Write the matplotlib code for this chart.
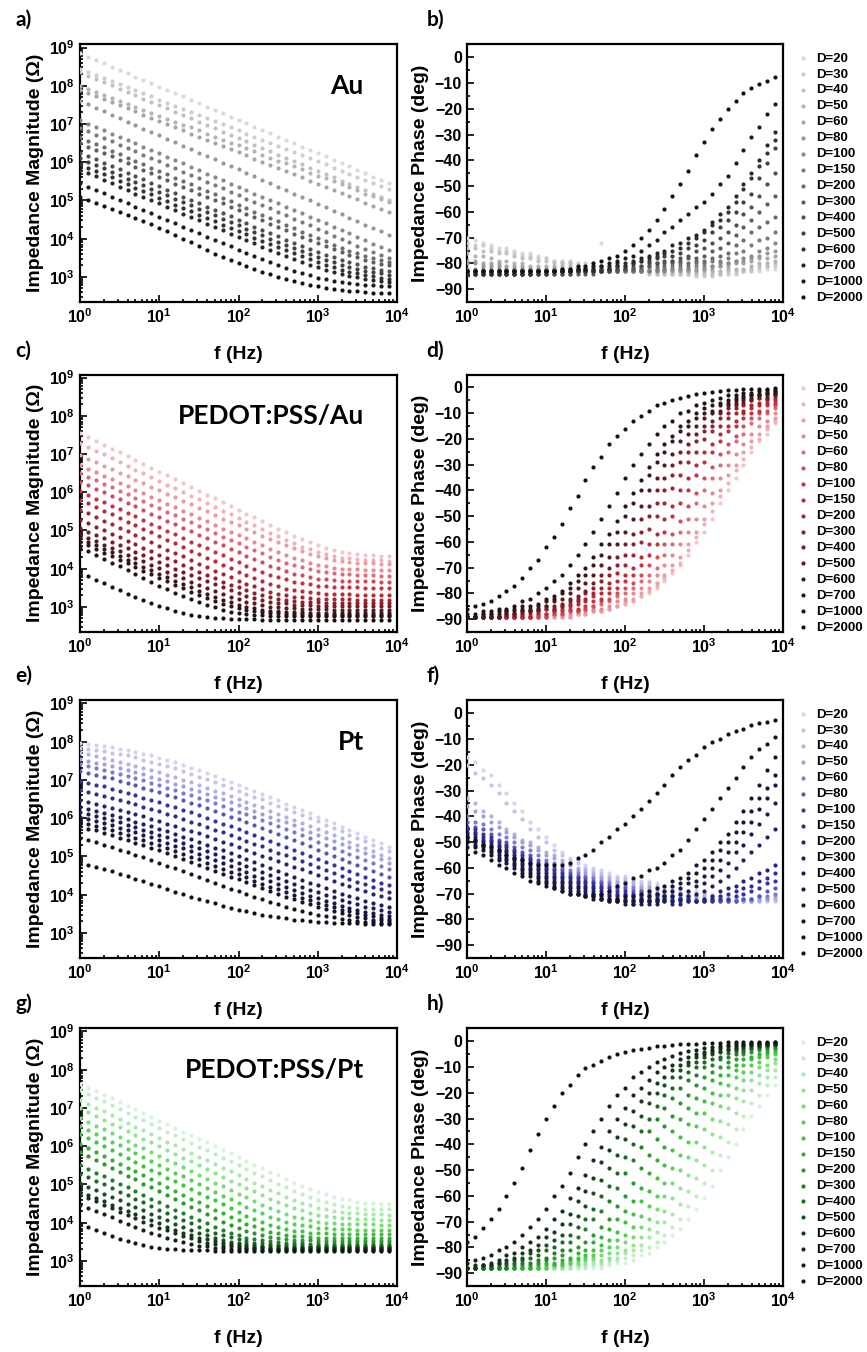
import matplotlib.pyplot as plt
import numpy as np
from matplotlib.colors import LinearSegmentedColormap
from matplotlib.ticker import MultipleLocator, NullFormatter, LogLocator

plt.rcParams['font.family'] = ['Liberation Sans', 'DejaVu Sans']
plt.rcParams['font.weight'] = 'bold'
plt.rcParams['axes.labelweight'] = 'bold'
plt.rcParams['mathtext.fontset'] = 'custom'
plt.rcParams['mathtext.rm'] = 'Liberation Sans:bold'
plt.rcParams['mathtext.it'] = 'Liberation Sans:bold'
plt.rcParams['mathtext.bf'] = 'Liberation Sans:bold'

# frequency sweep (Hz), 10 points per decade
freq = [1.0, 1.26, 1.58, 2.0, 2.51, 3.16, 3.98, 5.01, 6.31, 7.94,
        10, 12.6, 15.8, 20.0, 25.1, 31.6, 39.8, 50.1, 63.1, 79.4,
        100, 126, 158, 200, 251, 316, 398, 501, 631, 794,
        1000, 1259, 1585, 1995, 2512, 3162, 3981, 5012, 6310, 7943]
diameters = [20, 30, 40, 50, 60, 80, 100, 150, 200, 300, 400, 500, 600, 700, 1000, 2000]

# ---------------- Au : log10 |Z| (Ohm) ----------------
au_logz = [
    [8.85, 8.76, 8.68, 8.59, 8.50, 8.41, 8.33, 8.24, 8.15, 8.07, 7.98, 7.89, 7.80, 7.72, 7.63, 7.54, 7.45, 7.37, 7.28, 7.19,
     7.11, 7.02, 6.93, 6.84, 6.76, 6.67, 6.58, 6.50, 6.41, 6.32, 6.23, 6.15, 6.06, 5.97, 5.89, 5.80, 5.71, 5.62, 5.54, 5.45],
    [8.45, 8.37, 8.29, 8.21, 8.13, 8.05, 7.97, 7.88, 7.80, 7.72, 7.64, 7.56, 7.48, 7.40, 7.32, 7.24, 7.16, 7.08, 7.00, 6.92,
     6.83, 6.75, 6.67, 6.59, 6.51, 6.43, 6.35, 6.27, 6.19, 6.11, 6.03, 5.95, 5.86, 5.78, 5.70, 5.62, 5.54, 5.46, 5.38, 5.30],
    [8.35, 8.26, 8.18, 8.09, 8.01, 7.92, 7.83, 7.75, 7.66, 7.58, 7.49, 7.41, 7.32, 7.23, 7.15, 7.06, 6.98, 6.89, 6.80, 6.72,
     6.63, 6.55, 6.46, 6.37, 6.29, 6.20, 6.12, 6.03, 5.94, 5.86, 5.77, 5.69, 5.60, 5.51, 5.43, 5.34, 5.26, 5.17, 5.09, 5.00],
    [8.00, 7.92, 7.84, 7.77, 7.69, 7.61, 7.53, 7.45, 7.37, 7.30, 7.22, 7.14, 7.06, 6.98, 6.91, 6.83, 6.75, 6.67, 6.59, 6.51,
     6.44, 6.36, 6.28, 6.20, 6.12, 6.04, 5.97, 5.89, 5.81, 5.73, 5.65, 5.58, 5.50, 5.42, 5.34, 5.26, 5.18, 5.11, 5.03, 4.95],
    [7.90, 7.82, 7.74, 7.65, 7.57, 7.49, 7.41, 7.33, 7.24, 7.16, 7.08, 7.00, 6.91, 6.83, 6.75, 6.67, 6.59, 6.50, 6.42, 6.34,
     6.26, 6.18, 6.09, 6.01, 5.93, 5.85, 5.77, 5.68, 5.60, 5.52, 5.44, 5.35, 5.27, 5.19, 5.11, 5.03, 4.94, 4.86, 4.78, 4.70],
    [7.60, 7.51, 7.42, 7.33, 7.24, 7.15, 7.06, 6.97, 6.88, 6.79, 6.70, 6.61, 6.52, 6.43, 6.34, 6.25, 6.16, 6.08, 5.99, 5.90,
     5.81, 5.72, 5.63, 5.54, 5.45, 5.36, 5.27, 5.18, 5.09, 5.00, 4.91, 4.82, 4.73, 4.64, 4.55, 4.46, 4.37, 4.28, 4.19, 4.10],
    [7.10, 7.01, 6.93, 6.84, 6.75, 6.66, 6.58, 6.49, 6.40, 6.32, 6.23, 6.14, 6.05, 5.97, 5.88, 5.79, 5.70, 5.62, 5.53, 5.44,
     5.36, 5.27, 5.18, 5.09, 5.01, 4.92, 4.83, 4.75, 4.66, 4.57, 4.48, 4.40, 4.31, 4.22, 4.14, 4.05, 3.96, 3.87, 3.79, 3.70],
    [6.90, 6.81, 6.72, 6.64, 6.55, 6.46, 6.37, 6.28, 6.20, 6.11, 6.02, 5.93, 5.84, 5.75, 5.67, 5.58, 5.49, 5.41, 5.32, 5.23,
     5.14, 5.05, 4.96, 4.88, 4.79, 4.70, 4.61, 4.52, 4.43, 4.35, 4.26, 4.17, 4.08, 3.99, 3.90, 3.82, 3.73, 3.65, 3.57, 3.50],
    [6.65, 6.56, 6.48, 6.39, 6.30, 6.21, 6.12, 6.03, 5.95, 5.86, 5.77, 5.68, 5.59, 5.50, 5.42, 5.33, 5.24, 5.16, 5.07, 4.98,
     4.89, 4.80, 4.71, 4.63, 4.54, 4.45, 4.36, 4.27, 4.18, 4.10, 4.01, 3.93, 3.84, 3.76, 3.69, 3.62, 3.55, 3.50, 3.45, 3.40],
    [6.50, 6.41, 6.33, 6.24, 6.15, 6.06, 5.97, 5.88, 5.80, 5.71, 5.62, 5.53, 5.44, 5.35, 5.27, 5.18, 5.09, 5.01, 4.92, 4.83,
     4.74, 4.65, 4.56, 4.48, 4.39, 4.30, 4.22, 4.13, 4.05, 3.96, 3.88, 3.80, 3.72, 3.64, 3.58, 3.51, 3.45, 3.40, 3.35, 3.30],
    [6.25, 6.16, 6.08, 5.99, 5.90, 5.81, 5.72, 5.63, 5.55, 5.46, 5.37, 5.28, 5.19, 5.10, 5.02, 4.93, 4.84, 4.76, 4.67, 4.58,
     4.49, 4.40, 4.31, 4.23, 4.14, 4.06, 3.97, 3.89, 3.81, 3.73, 3.65, 3.58, 3.51, 3.44, 3.38, 3.33, 3.27, 3.23, 3.19, 3.15],
    [6.10, 6.01, 5.93, 5.84, 5.75, 5.66, 5.57, 5.48, 5.40, 5.31, 5.22, 5.13, 5.04, 4.95, 4.87, 4.78, 4.69, 4.61, 4.52, 4.43,
     4.35, 4.26, 4.17, 4.09, 4.00, 3.92, 3.83, 3.75, 3.67, 3.60, 3.52, 3.45, 3.39, 3.32, 3.27, 3.21, 3.16, 3.12, 3.09, 3.05],
    [5.95, 5.86, 5.78, 5.69, 5.60, 5.51, 5.42, 5.33, 5.25, 5.16, 5.07, 4.98, 4.89, 4.80, 4.72, 4.63, 4.54, 4.46, 4.37, 4.28,
     4.20, 4.11, 4.03, 3.94, 3.86, 3.78, 3.70, 3.62, 3.54, 3.47, 3.39, 3.32, 3.26, 3.19, 3.14, 3.10, 3.05, 3.02, 2.98, 2.95],
    [5.80, 5.71, 5.63, 5.54, 5.45, 5.36, 5.27, 5.18, 5.10, 5.01, 4.92, 4.83, 4.74, 4.65, 4.57, 4.48, 4.39, 4.31, 4.22, 4.13,
     4.05, 3.96, 3.88, 3.79, 3.71, 3.63, 3.55, 3.47, 3.40, 3.32, 3.25, 3.19, 3.13, 3.07, 3.03, 2.99, 2.95, 2.92, 2.90, 2.87],
    [5.45, 5.36, 5.28, 5.19, 5.10, 5.01, 4.92, 4.83, 4.75, 4.66, 4.57, 4.49, 4.40, 4.31, 4.23, 4.14, 4.05, 3.97, 3.88, 3.80,
     3.71, 3.63, 3.55, 3.47, 3.39, 3.31, 3.24, 3.16, 3.10, 3.04, 2.98, 2.94, 2.90, 2.86, 2.84, 2.81, 2.79, 2.78, 2.76, 2.75],
    [5.08, 5.00, 4.93, 4.85, 4.77, 4.69, 4.61, 4.53, 4.46, 4.38, 4.29, 4.19, 4.10, 4.00, 3.90, 3.80, 3.71, 3.61, 3.52, 3.44,
     3.36, 3.28, 3.21, 3.14, 3.07, 3.01, 2.95, 2.89, 2.84, 2.80, 2.75, 2.72, 2.68, 2.65, 2.63, 2.62, 2.60, 2.59, 2.58, 2.57],
]

# ---------------- Au : phase (deg) ----------------
au_phase = [
    [-70, -71, -72, -73, -74, -74, -75, -76, -76, -77, -78, -79, -80, -80, -80, -81, -81, -72, -81, -82,
     -82, -82, -82, -83, -83, -83, -84, -84, -84, -84, -84, -84, -84, -84, -84, -83, -83, -83, -82, -82],
    [-72, -73, -73, -74, -75, -75, -76, -77, -77, -78, -78, -79, -79, -79, -80, -80, -80, -81, -81, -81,
     -82, -82, -83, -83, -84, -84, -84, -84, -84, -85, -85, -85, -84, -84, -84, -83, -83, -82, -81, -81],
    [-74, -74, -75, -75, -76, -76, -77, -78, -78, -79, -79, -80, -80, -80, -81, -81, -81, -82, -82, -82,
     -83, -83, -83, -84, -84, -84, -84, -84, -84, -84, -84, -84, -84, -83, -83, -83, -82, -81, -81, -80],
    [-76, -77, -77, -78, -79, -79, -80, -80, -81, -81, -81, -81, -81, -81, -82, -82, -82, -82, -82, -82,
     -83, -83, -83, -83, -83, -83, -83, -83, -83, -83, -83, -83, -83, -82, -82, -82, -81, -80, -80, -79],
    [-79, -79, -80, -80, -80, -81, -81, -81, -82, -82, -82, -82, -82, -82, -82, -82, -82, -82, -82, -82,
     -83, -83, -83, -83, -83, -83, -83, -83, -83, -83, -82, -82, -81, -81, -80, -80, -79, -78, -78, -77],
    [-80, -80, -81, -81, -81, -82, -82, -82, -82, -82, -82, -82, -82, -82, -82, -82, -82, -82, -82, -82,
     -82, -82, -82, -82, -82, -82, -82, -82, -82, -82, -82, -81, -81, -80, -79, -79, -78, -77, -76, -75],
    [-82] * 14 + [-83] * 12 + [-82, -82, -82, -81, -81, -81, -80, -80, -79, -78, -77, -75, -74, -72],
    [-83] * 24 + [-82, -82, -81, -81, -81, -80, -80, -79, -79, -78, -76, -75, -73, -71, -70, -68],
    [-83] * 20 + [-82, -82, -82, -81, -81, -81, -80, -80, -80, -79, -79, -78, -77, -76, -73, -71, -68, -66, -64, -62],
    [-84] * 17 + [-83, -83, -83, -82, -82, -81, -81, -80, -80, -79, -79, -78, -78, -77, -75, -74, -72, -69, -66, -63,
                  -60, -57, -54],
    [-84] * 14 + [-83, -83, -83, -83, -83, -82, -82, -81, -81, -80, -80, -79, -79, -78, -77, -75, -74, -72, -70, -68,
                  -65, -61, -58, -54, -49, -45],
    [-84] * 11 + [-83, -83, -83, -83, -83, -83, -82, -82, -81, -81, -80, -79, -79, -78, -77, -77, -76, -74, -73, -71,
                  -68, -66, -63, -60, -56, -53, -47, -41, -35],
    [-84] * 9 + [-83] * 9 + [-82, -81, -81, -80, -79, -78, -77, -76, -75, -74, -72, -70, -68, -65, -63, -60, -56, -51,
                             -47, -42, -37, -32],
    [-83] * 14 + [-82, -82, -82, -81, -81, -80, -80, -79, -78, -77, -76, -75, -73, -72, -70, -69, -67, -64, -61, -58,
                  -54, -49, -45, -40, -34, -29],
    [-83] * 14 + [-82, -82, -81, -81, -80, -79, -78, -77, -75, -73, -71, -68, -66, -63, -61, -58, -56, -53, -49, -46,
                  -41, -36, -31, -27, -22, -18],
    [-83] * 12 + [-82, -82, -81, -81, -80, -79, -78, -77, -75, -73, -70, -67, -63, -59, -54, -49, -44, -38, -33, -28,
                  -24, -20, -17, -14, -12, -10.5, -9, -7.5],
]

# ---------------- PEDOT:PSS/Au : log10 |Z| ----------------
pau_logz = [
    [7.54, 7.44, 7.34, 7.24, 7.14, 7.04, 6.94, 6.84, 6.74, 6.64, 6.54, 6.44, 6.34, 6.24, 6.14, 6.04, 5.94, 5.84, 5.74, 5.64,
     5.54, 5.44, 5.34, 5.25, 5.15, 5.05, 4.95, 4.86, 4.77, 4.69, 4.61, 4.55, 4.49, 4.44, 4.41, 4.38, 4.36, 4.35, 4.34, 4.34],
    [7.28, 7.18, 7.09, 6.99, 6.89, 6.79, 6.69, 6.59, 6.50, 6.40, 6.30, 6.20, 6.10, 6.00, 5.91, 5.81, 5.71, 5.62, 5.52, 5.42,
     5.32, 5.22, 5.13, 5.03, 4.94, 4.85, 4.75, 4.66, 4.58, 4.51, 4.43, 4.38, 4.34, 4.29, 4.27, 4.25, 4.23, 4.22, 4.22, 4.21],
    [6.97, 6.88, 6.78, 6.69, 6.60, 6.51, 6.42, 6.33, 6.23, 6.14, 6.05, 5.96, 5.87, 5.78, 5.68, 5.59, 5.50, 5.40, 5.31, 5.22,
     5.13, 5.04, 4.95, 4.86, 4.77, 4.69, 4.61, 4.53, 4.46, 4.39, 4.32, 4.28, 4.24, 4.20, 4.18, 4.16, 4.14, 4.14, 4.13, 4.13],
    [6.71, 6.62, 6.52, 6.43, 6.34, 6.25, 6.16, 6.07, 5.97, 5.88, 5.79, 5.70, 5.61, 5.52, 5.42, 5.33, 5.24, 5.14, 5.05, 4.96,
     4.88, 4.79, 4.70, 4.61, 4.52, 4.44, 4.36, 4.28, 4.22, 4.16, 4.10, 4.07, 4.03, 4.00, 3.99, 3.98, 3.97, 3.97, 3.96, 3.96],
    [6.50, 6.41, 6.31, 6.22, 6.13, 6.04, 5.95, 5.86, 5.76, 5.67, 5.58, 5.49, 5.40, 5.31, 5.21, 5.12, 5.03, 4.93, 4.84, 4.75,
     4.67, 4.58, 4.49, 4.40, 4.31, 4.24, 4.16, 4.09, 4.04, 3.99, 3.94, 3.91, 3.89, 3.86, 3.85, 3.84, 3.83, 3.83, 3.82, 3.82],
    [6.28, 6.19, 6.09, 6.00, 5.91, 5.81, 5.72, 5.63, 5.53, 5.44, 5.35, 5.25, 5.16, 5.07, 4.98, 4.89, 4.80, 4.70, 4.61, 4.52,
     4.43, 4.34, 4.25, 4.17, 4.08, 4.01, 3.94, 3.87, 3.83, 3.78, 3.74, 3.72, 3.71, 3.69, 3.68, 3.68, 3.67, 3.67, 3.66, 3.66],
    [6.02, 5.93, 5.83, 5.74, 5.65, 5.55, 5.46, 5.37, 5.27, 5.18, 5.09, 4.99, 4.90, 4.81, 4.71, 4.62, 4.53, 4.44, 4.35, 4.26,
     4.17, 4.08, 4.00, 3.92, 3.84, 3.78, 3.72, 3.66, 3.63, 3.59, 3.56, 3.55, 3.53, 3.52, 3.51, 3.51, 3.50, 3.50, 3.50, 3.50],
    [5.80, 5.71, 5.61, 5.52, 5.42, 5.33, 5.23, 5.14, 5.04, 4.95, 4.85, 4.76, 4.66, 4.57, 4.47, 4.38, 4.29, 4.19, 4.10, 4.01,
     3.92, 3.83, 3.75, 3.67, 3.59, 3.54, 3.48, 3.43, 3.41, 3.38, 3.36, 3.35, 3.34, 3.33, 3.33, 3.32, 3.32, 3.32, 3.32, 3.32],
    [5.54, 5.45, 5.35, 5.26, 5.17, 5.07, 4.98, 4.88, 4.79, 4.69, 4.60, 4.50, 4.41, 4.32, 4.22, 4.13, 4.04, 3.95, 3.86, 3.78,
     3.69, 3.61, 3.54, 3.46, 3.39, 3.35, 3.31, 3.27, 3.25, 3.23, 3.21, 3.21, 3.20, 3.20, 3.20, 3.19, 3.19, 3.19, 3.19, 3.19],
    [5.28, 5.19, 5.10, 5.01, 4.92, 4.82, 4.73, 4.64, 4.55, 4.46, 4.37, 4.28, 4.19, 4.10, 4.01, 3.92, 3.83, 3.75, 3.66, 3.58,
     3.51, 3.43, 3.37, 3.31, 3.25, 3.22, 3.18, 3.15, 3.14, 3.13, 3.12, 3.11, 3.11, 3.10, 3.10, 3.10, 3.10, 3.10, 3.10, 3.10],
    [5.06, 4.97, 4.89, 4.80, 4.71, 4.62, 4.53, 4.44, 4.36, 4.27, 4.18, 4.09, 4.00, 3.92, 3.83, 3.75, 3.67, 3.59, 3.51, 3.44,
     3.36, 3.29, 3.24, 3.19, 3.14, 3.11, 3.09, 3.06, 3.05, 3.04, 3.03, 3.03, 3.02, 3.02, 3.02, 3.02, 3.02, 3.02, 3.02, 3.02],
    [4.90, 4.81, 4.72, 4.63, 4.54, 4.46, 4.37, 4.28, 4.19, 4.10, 4.01, 3.92, 3.83, 3.75, 3.66, 3.58, 3.50, 3.42, 3.34, 3.27,
     3.21, 3.14, 3.10, 3.05, 3.01, 2.99, 2.98, 2.96, 2.95, 2.95, 2.94, 2.94, 2.93, 2.93, 2.93, 2.93, 2.93, 2.93, 2.93, 2.93],
    [4.80, 4.71, 4.61, 4.52, 4.43, 4.33, 4.24, 4.15, 4.05, 3.96, 3.87, 3.77, 3.68, 3.59, 3.51, 3.42, 3.34, 3.26, 3.18, 3.12,
     3.05, 2.99, 2.96, 2.93, 2.90, 2.89, 2.87, 2.86, 2.86, 2.85, 2.85, 2.84, 2.84, 2.84, 2.84, 2.84, 2.84, 2.84, 2.84, 2.84],
    [4.70, 4.61, 4.51, 4.42, 4.33, 4.23, 4.14, 4.04, 3.95, 3.85, 3.76, 3.67, 3.58, 3.49, 3.40, 3.31, 3.23, 3.16, 3.08, 3.03,
     2.97, 2.92, 2.89, 2.87, 2.84, 2.83, 2.82, 2.81, 2.81, 2.80, 2.80] + [2.80] * 9,
    [4.55, 4.45, 4.35, 4.25, 4.15, 4.06, 3.96, 3.86, 3.76, 3.66, 3.56, 3.47, 3.37, 3.29, 3.20, 3.12, 3.05, 2.99, 2.92, 2.88,
     2.85, 2.81, 2.80, 2.78, 2.77, 2.77, 2.76, 2.76] + [2.76] * 12,
    [3.89, 3.80, 3.71, 3.62, 3.53, 3.44, 3.35, 3.27, 3.18, 3.10, 3.03, 2.96, 2.89, 2.85, 2.80, 2.76, 2.74, 2.72, 2.70, 2.69,
     2.69, 2.68, 2.68, 2.67] + [2.67] * 16,
]

# ---------------- PEDOT:PSS/Au : phase ----------------
pau_phase = [
    [-89] * 14 + [-88, -88, -87, -87, -86, -85, -84, -83, -81, -80, -78, -75, -72, -69, -65, -60, -56, -51, -45, -40,
                  -35, -30, -25, -21, -18, -14],
    [-89] * 14 + [-88, -88, -87, -87, -86, -85, -84, -83, -81, -79, -77, -74, -71, -68, -63, -58, -53, -48, -42, -37,
                  -32, -28, -23, -20, -16, -13],
    [-89] * 14 + [-88, -88, -87, -87, -86, -85, -83, -82, -80, -78, -76, -73, -69, -66, -61, -56, -51, -45, -40, -34,
                  -30, -25, -21, -18, -15, -12],
    [-89] * 11 + [-88, -88, -88, -87, -87, -86, -86, -85, -83, -82, -80, -78, -75, -73, -69, -65, -61, -56, -51, -46,
                  -41, -35, -30, -26, -22, -18, -15, -13, -10],
    [-89] * 11 + [-88, -88, -87, -87, -86, -85, -84, -83, -81, -80, -78, -75, -73, -70, -65, -61, -56, -51, -45, -40,
                  -35, -30, -25, -21, -18, -14, -12, -10, -8],
    [-89] * 11 + [-88, -88, -87, -87, -86, -85, -83, -82, -80, -78, -76, -73, -69, -66, -61, -57, -52, -46, -41, -35,
                  -31, -26, -22, -19, -15, -12, -10, -9, -7],
    [-89] * 9 + [-88, -88, -87, -87, -86, -86, -85, -83, -82, -80, -78, -75, -73, -69, -65, -61, -56, -50, -45, -40,
                 -34, -29, -25, -21, -17, -15, -12, -10, -9, -7, -6],
    [-89] * 9 + [-88, -88, -87, -86, -85, -84, -83, -81, -80, -78, -75, -73, -70, -66, -61, -57, -51, -46, -40, -35,
                 -30, -25, -22, -18, -15, -13, -10, -8, -7, -6, -5],
    [-89] * 7 + [-88, -88, -87, -86, -86, -85, -84, -83, -82, -80, -78, -76, -72, -69, -65, -60, -55, -50, -45, -39,
                 -34, -29, -25, -20, -17, -15, -12, -10, -9, -7, -6, -5, -4],
    [-89] * 5 + [-88, -88, -88, -87, -87, -86, -86, -85, -83, -82, -80, -78, -75, -73, -69, -65, -61, -56, -50, -45,
                 -40, -34, -29, -25, -21, -17, -15, -12, -10, -8, -7, -5, -4, -4, -3],
    [-89] * 5 + [-88, -88, -87, -87, -86, -85, -85, -84, -82, -81, -79, -76, -73, -70, -66, -61, -57, -51, -46, -40,
                 -35, -30, -25, -22, -18, -15, -13, -10, -8, -7, -6, -5, -4, -4, -3],
    [-89] * 5 + [-88, -88, -87, -87, -86, -85, -83, -82, -80, -78, -76, -73, -69, -66, -61, -56, -51, -46, -40, -35,
                 -30, -26, -21, -18, -15, -12, -10, -9, -7, -6, -5, -4, -3, -3, -2],
    [-89, -89, -88, -88, -88, -87, -87, -86, -86, -85, -83, -82, -80, -78, -75, -73, -69, -65, -61, -56,
     -50, -45, -40, -34, -29, -25, -21, -17, -15, -12, -10, -9, -7, -6, -5, -4, -3, -3, -2, -2],
    [-89, -89, -88, -88, -87, -87, -86, -85, -85, -84, -82, -81, -79, -76, -73, -70, -66, -61, -57, -52,
     -46, -41, -36, -31, -26, -22, -19, -15, -13, -10, -8, -7, -6, -5, -4, -3.5, -3, -2.5, -2, -1.5],
    [-88, -88, -87, -87, -86, -86, -85, -83, -82, -80, -78, -75, -73, -69, -65, -61, -56, -51, -46, -41,
     -35, -30, -26, -22, -18, -15, -13, -10, -9, -7, -6, -5, -4, -3, -3, -2, -2, -1.5, -1, -1],
    [-86, -85, -84, -83, -81, -79, -77, -74, -70, -67, -62, -58, -53, -47, -42, -36, -31, -27, -22, -19,
     -16, -13, -11, -9, -7, -6, -5, -4, -3.3, -2.7, -2, -1.7, -1.3, -1, -0.9, -0.8, -0.7, -0.6, -0.5, -0.4],
]

# ---------------- Pt : log10 |Z| ----------------
pt_logz = [
    [7.97, 7.94, 7.92, 7.89, 7.86, 7.82, 7.79, 7.74, 7.69, 7.64, 7.58, 7.52, 7.46, 7.39, 7.32, 7.25, 7.17, 7.10, 7.02, 6.94,
     6.87, 6.79, 6.71, 6.63, 6.55, 6.47, 6.38, 6.30, 6.21, 6.13, 6.04, 5.95, 5.87, 5.78, 5.69, 5.61, 5.52, 5.43, 5.34, 5.25],
    [7.84, 7.81, 7.78, 7.75, 7.71, 7.68, 7.64, 7.59, 7.53, 7.48, 7.42, 7.36, 7.30, 7.23, 7.16, 7.09, 7.02, 6.94, 6.87, 6.79,
     6.72, 6.64, 6.56, 6.49, 6.41, 6.33, 6.24, 6.16, 6.08, 6.00, 5.92, 5.83, 5.75, 5.66, 5.57, 5.49, 5.40, 5.31, 5.23, 5.14],
    [7.71, 7.67, 7.62, 7.58, 7.53, 7.48, 7.43, 7.37, 7.32, 7.26, 7.20, 7.13, 7.07, 7.00, 6.94, 6.87, 6.80, 6.72, 6.65, 6.58,
     6.50, 6.43, 6.35, 6.28, 6.20, 6.12, 6.04, 5.96, 5.88, 5.80, 5.72, 5.64, 5.55, 5.47, 5.39, 5.30, 5.22, 5.14, 5.05, 4.97],
    [7.54, 7.50, 7.45, 7.41, 7.36, 7.31, 7.26, 7.20, 7.15, 7.09, 7.03, 6.96, 6.90, 6.83, 6.77, 6.70, 6.63, 6.56, 6.49, 6.42,
     6.34, 6.27, 6.19, 6.12, 6.04, 5.96, 5.89, 5.81, 5.73, 5.65, 5.57, 5.49, 5.41, 5.33, 5.25, 5.16, 5.08, 5.00, 4.92, 4.84],
    [7.41, 7.36, 7.32, 7.27, 7.22, 7.16, 7.11, 7.05, 6.99, 6.93, 6.87, 6.80, 6.74, 6.67, 6.61, 6.54, 6.47, 6.39, 6.32, 6.25,
     6.17, 6.10, 6.02, 5.95, 5.87, 5.79, 5.71, 5.63, 5.55, 5.47, 5.39, 5.31, 5.23, 5.15, 5.07, 4.99, 4.91, 4.83, 4.75, 4.67],
    [7.24, 7.19, 7.14, 7.09, 7.04, 6.98, 6.93, 6.87, 6.80, 6.74, 6.68, 6.61, 6.55, 6.48, 6.41, 6.34, 6.27, 6.19, 6.12, 6.04,
     5.97, 5.89, 5.81, 5.74, 5.66, 5.58, 5.50, 5.42, 5.34, 5.26, 5.18, 5.10, 5.02, 4.94, 4.86, 4.77, 4.69, 4.61, 4.54, 4.46],
    [6.98, 6.93, 6.88, 6.83, 6.77, 6.72, 6.66, 6.60, 6.54, 6.48, 6.42, 6.35, 6.29, 6.22, 6.15, 6.08, 6.01, 5.93, 5.86, 5.79,
     5.71, 5.64, 5.56, 5.48, 5.40, 5.32, 5.25, 5.17, 5.09, 5.01, 4.93, 4.85, 4.77, 4.69, 4.61, 4.54, 4.46, 4.39, 4.31, 4.24],
    [6.73, 6.68, 6.63, 6.58, 6.53, 6.47, 6.42, 6.36, 6.30, 6.24, 6.18, 6.11, 6.05, 5.98, 5.91, 5.84, 5.77, 5.70, 5.63, 5.56,
     5.48, 5.41, 5.33, 5.26, 5.18, 5.10, 5.03, 4.95, 4.87, 4.80, 4.72, 4.64, 4.57, 4.49, 4.42, 4.34, 4.27, 4.20, 4.14, 4.07],
    [6.47, 6.42, 6.37, 6.32, 6.27, 6.21, 6.16, 6.10, 6.05, 5.99, 5.93, 5.86, 5.80, 5.73, 5.67, 5.60, 5.53, 5.46, 5.39, 5.32,
     5.24, 5.17, 5.10, 5.02, 4.95, 4.88, 4.80, 4.73, 4.66, 4.58, 4.51, 4.44, 4.36, 4.29, 4.22, 4.16, 4.09, 4.03, 3.96, 3.90],
    [6.30, 6.25, 6.19, 6.14, 6.08, 6.03, 5.97, 5.91, 5.85, 5.79, 5.72, 5.66, 5.59, 5.52, 5.45, 5.38, 5.31, 5.23, 5.16, 5.08,
     5.01, 4.93, 4.85, 4.77, 4.69, 4.61, 4.54, 4.46, 4.39, 4.31, 4.24, 4.17, 4.10, 4.03, 3.97, 3.90, 3.84, 3.79, 3.73, 3.68],
    [6.17, 6.12, 6.06, 6.01, 5.95, 5.89, 5.83, 5.77, 5.70, 5.64, 5.57, 5.50, 5.43, 5.36, 5.28, 5.21, 5.13, 5.06, 4.98, 4.90,
     4.83, 4.75, 4.67, 4.59, 4.51, 4.43, 4.36, 4.28, 4.21, 4.13, 4.06, 3.99, 3.93, 3.86, 3.80, 3.75, 3.69, 3.64, 3.60, 3.55],
    [6.04, 5.99, 5.93, 5.88, 5.82, 5.75, 5.69, 5.63, 5.56, 5.50, 5.43, 5.35, 5.28, 5.21, 5.13, 5.06, 4.98, 4.90, 4.82, 4.74,
     4.66, 4.58, 4.50, 4.43, 4.35, 4.27, 4.20, 4.12, 4.05, 3.97, 3.90, 3.84, 3.77, 3.71, 3.66, 3.60, 3.55, 3.51, 3.48, 3.44],
    [5.91, 5.85, 5.80, 5.74, 5.68, 5.62, 5.56, 5.49, 5.43, 5.36, 5.29, 5.21, 5.14, 5.07, 4.99, 4.92, 4.84, 4.76, 4.68, 4.60,
     4.53, 4.45, 4.37, 4.29, 4.21, 4.14, 4.06, 3.99, 3.92, 3.86, 3.79, 3.73, 3.67, 3.61, 3.56, 3.51, 3.46, 3.43, 3.39, 3.36],
    [5.79, 5.73, 5.68, 5.62, 5.56, 5.49, 5.43, 5.36, 5.30, 5.23, 5.16, 5.08, 5.01, 4.93, 4.86, 4.78, 4.70, 4.63, 4.55, 4.47,
     4.40, 4.32, 4.24, 4.17, 4.09, 4.02, 3.95, 3.88, 3.81, 3.75, 3.68, 3.62, 3.57, 3.51, 3.47, 3.42, 3.38, 3.35, 3.33, 3.30],
    [5.49, 5.43, 5.37, 5.31, 5.25, 5.18, 5.12, 5.05, 4.98, 4.91, 4.84, 4.76, 4.69, 4.61, 4.54, 4.46, 4.38, 4.31, 4.23, 4.16,
     4.09, 4.02, 3.95, 3.89, 3.82, 3.76, 3.69, 3.63, 3.58, 3.53, 3.48, 3.44, 3.41, 3.37, 3.34, 3.32, 3.29, 3.28, 3.26, 3.25],
    [4.84, 4.78, 4.73, 4.67, 4.61, 4.54, 4.48, 4.42, 4.35, 4.29, 4.22, 4.15, 4.08, 4.02, 3.95, 3.89, 3.83, 3.77, 3.71, 3.66,
     3.61, 3.56, 3.52, 3.48, 3.44, 3.41, 3.38, 3.35, 3.33, 3.31, 3.29, 3.28, 3.27, 3.26, 3.25, 3.25, 3.24, 3.23, 3.23, 3.22],
]

# ---------------- Pt : phase ----------------
pt_phase = [
    [-17, -19, -22, -24, -28, -31, -35, -38, -42, -45, -48, -51, -54, -56, -57, -59, -60, -61, -62, -63,
     -63, -64, -65, -65, -66, -67, -67, -68, -69, -69, -70, -70, -71, -71, -71, -72, -72, -72, -72, -72],
    [-20, -23, -25, -28, -31, -35, -38, -41, -45, -48, -50, -53, -55, -57, -58, -60, -61, -62, -63, -64,
     -64, -65, -66, -66, -67, -68, -68, -69, -69, -70, -70, -71, -71, -72, -72, -73, -73, -73, -73, -73],
    [-33, -35, -38, -40, -42, -45, -47, -49, -50, -52, -54, -55, -57, -58, -60, -61, -62, -63, -64, -65,
     -65, -66, -67, -67, -68, -69, -69, -70, -70, -71, -71, -71, -72, -72, -72, -73, -73, -73, -72, -72],
    [-36, -38, -40, -42, -44, -46, -48, -50, -51, -53, -55, -56, -58, -59, -61, -62, -63, -64, -65, -66,
     -66, -67, -68, -68, -69, -69, -70, -70, -71, -71, -72, -72, -73, -73, -73, -73, -73, -72, -72, -71],
    [-40, -42, -43, -45, -47, -48, -50, -52, -53, -55, -57, -58, -60, -61, -62, -63, -64, -65, -66, -67,
     -67, -68, -69, -69, -70, -70, -71, -71, -71, -72, -72, -72, -73, -73, -73, -72, -72, -71, -71, -70],
    [-42, -44, -45, -47, -49, -50, -52, -54, -55, -57, -58, -60, -61, -62, -63, -64, -65, -66, -67, -68,
     -68, -69, -69, -70, -70, -71, -71, -72, -72, -73, -73, -73, -73, -73, -73, -72, -72, -71, -69, -68],
    [-44, -45, -47, -48, -50, -51, -53, -55, -56, -58, -59, -61, -62, -63, -64, -65, -66, -67, -68, -69,
     -69, -70, -70, -71, -71, -71, -72, -72, -72, -73, -73, -73, -72, -72, -71, -70, -69, -68, -66, -65],
    [-45, -46, -48, -49, -51, -52, -54, -56, -57, -59, -60, -62, -63, -64, -65, -66, -67, -68, -69, -70,
     -70, -71, -71, -72, -72, -72, -73, -73, -73, -73, -73, -72, -71, -70, -69, -68, -67, -65, -64, -62],
    [-46, -47, -49, -50, -52, -53, -55, -57, -58, -60, -61, -63, -64, -65, -66, -67, -68, -69, -70, -71,
     -71, -72, -72, -73, -73, -73, -74, -74, -73, -73, -72, -71, -69, -68, -67, -65, -64, -62, -61, -59],
    [-47, -48, -50, -51, -53, -54, -56, -58, -59, -61, -62, -64, -65, -66, -67, -68, -69, -70, -71, -72,
     -72, -73, -73, -74, -74, -73, -73, -72, -71, -70, -69, -67, -65, -63, -60, -57, -54, -51, -48, -45],
    [-48, -49, -51, -52, -54, -55, -57, -59, -60, -62, -63, -65, -66, -67, -68, -69, -70, -71, -72, -73,
     -73, -74, -74, -73, -73, -72, -71, -70, -69, -67, -66, -63, -61, -58, -54, -51, -47, -43, -39, -35],
    [-48, -50, -51, -53, -55, -56, -58, -60, -61, -63, -64, -66, -67, -68, -69, -70, -71, -72, -73, -73,
     -74, -74, -73, -73, -72, -71, -69, -68, -66, -65, -63, -60, -57, -54, -50, -46, -42, -37, -33, -28],
    [-49, -51, -52, -54, -56, -57, -59, -61, -62, -64, -65, -67, -68, -69, -70, -71, -72, -72, -73, -73,
     -73, -73, -72, -71, -70, -69, -67, -66, -64, -62, -60, -57, -53, -50, -46, -42, -38, -33, -29, -24],
    [-50, -52, -53, -55, -57, -58, -60, -62, -63, -65, -66, -68, -69, -70, -70, -71, -71, -72, -72, -72,
     -71, -71, -70, -69, -68, -67, -65, -64, -62, -59, -57, -54, -50, -47, -42, -38, -33, -28, -22, -17],
    [-52, -54, -55, -57, -59, -60, -62, -63, -65, -66, -67, -68, -69, -70, -70, -71, -70, -70, -69, -67,
     -66, -64, -63, -61, -60, -58, -55, -53, -49, -45, -41, -37, -33, -29, -25, -21, -17, -14, -12, -9],
    [-48, -49, -51, -52, -53, -55, -56, -57, -58, -59, -59, -59, -59, -58, -56, -55, -53, -50, -48, -45,
     -43, -40, -37, -34, -31, -28, -24, -21, -18, -16, -13, -11, -10, -8, -7, -6, -4.5, -3.9, -3.2, -2.6],
]

# ---------------- PEDOT:PSS/Pt : log10 |Z| ----------------
ppt_logz = [
    [7.63, 7.53, 7.44, 7.34, 7.25, 7.15, 7.06, 6.96, 6.87, 6.77, 6.67, 6.58, 6.48, 6.38, 6.29, 6.19, 6.10, 6.00, 5.91, 5.81,
     5.72, 5.62, 5.52, 5.43, 5.33, 5.24, 5.14, 5.05, 4.97, 4.89, 4.81, 4.75, 4.68, 4.62, 4.59, 4.55, 4.52, 4.51, 4.49, 4.48],
    [7.46, 7.36, 7.27, 7.17, 7.07, 6.97, 6.87, 6.77, 6.68, 6.58, 6.48, 6.38, 6.28, 6.18, 6.09, 5.99, 5.89, 5.80, 5.70, 5.60,
     5.50, 5.40, 5.31, 5.21, 5.12, 5.02, 4.93, 4.83, 4.75, 4.68, 4.60, 4.55, 4.49, 4.44, 4.42, 4.39, 4.37, 4.36, 4.36, 4.35],
    [7.20, 7.10, 7.01, 6.91, 6.81, 6.71, 6.61, 6.51, 6.42, 6.32, 6.22, 6.12, 6.02, 5.92, 5.83, 5.73, 5.63, 5.54, 5.44, 5.34,
     5.24, 5.14, 5.05, 4.95, 4.86, 4.77, 4.68, 4.59, 4.52, 4.46, 4.39, 4.35, 4.31, 4.27, 4.26, 4.24, 4.23, 4.22, 4.22, 4.21],
    [6.99, 6.89, 6.79, 6.69, 6.59, 6.49, 6.39, 6.29, 6.20, 6.10, 6.00, 5.90, 5.80, 5.70, 5.60, 5.50, 5.40, 5.30, 5.20, 5.10,
     5.01, 4.91, 4.82, 4.72, 4.63, 4.55, 4.46, 4.38, 4.32, 4.26, 4.20, 4.17, 4.15, 4.12, 4.11, 4.10, 4.09, 4.09, 4.08, 4.08],
    [6.74, 6.64, 6.54, 6.44, 6.34, 6.24, 6.14, 6.04, 5.94, 5.84, 5.74, 5.65, 5.55, 5.45, 5.35, 5.25, 5.15, 5.05, 4.95, 4.85,
     4.76, 4.66, 4.57, 4.47, 4.38, 4.31, 4.23, 4.16, 4.11, 4.07, 4.02, 4.00, 3.99, 3.97, 3.97, 3.96, 3.96, 3.96, 3.95, 3.95],
    [6.52, 6.42, 6.32, 6.22, 6.12, 6.02, 5.92, 5.82, 5.71, 5.61, 5.51, 5.41, 5.31, 5.21, 5.11, 5.01, 4.91, 4.81, 4.71, 4.61,
     4.52, 4.42, 4.33, 4.24, 4.15, 4.09, 4.02, 3.96, 3.93, 3.90, 3.87, 3.86, 3.84, 3.83, 3.83, 3.82, 3.82, 3.82, 3.82, 3.82],
    [6.31, 6.21, 6.10, 6.00, 5.90, 5.79, 5.69, 5.59, 5.49, 5.39, 5.29, 5.18, 5.08, 4.98, 4.87, 4.77, 4.67, 4.58, 4.48, 4.38,
     4.28, 4.18, 4.10, 4.02, 3.94, 3.89, 3.84, 3.79, 3.77, 3.74, 3.72, 3.72, 3.71, 3.71, 3.70, 3.70, 3.70, 3.70, 3.70, 3.70],
    [6.05, 5.95, 5.85, 5.75, 5.65, 5.54, 5.44, 5.34, 5.24, 5.14, 5.04, 4.93, 4.83, 4.73, 4.63, 4.53, 4.43, 4.34, 4.24, 4.15,
     4.06, 3.97, 3.90, 3.83, 3.76, 3.72, 3.69, 3.65, 3.64, 3.62, 3.61, 3.61, 3.60, 3.60] + [3.60] * 6,
    [5.84, 5.74, 5.63, 5.53, 5.43, 5.33, 5.23, 5.13, 5.02, 4.92, 4.82, 4.72, 4.62, 4.52, 4.42, 4.32, 4.22, 4.13, 4.03, 3.95,
     3.86, 3.78, 3.73, 3.67, 3.62, 3.60, 3.57, 3.55, 3.54, 3.54, 3.53, 3.53, 3.52] + [3.52] * 7,
    [5.50, 5.40, 5.31, 5.21, 5.11, 5.02, 4.92, 4.82, 4.73, 4.63, 4.53, 4.44, 4.34, 4.25, 4.15, 4.06, 3.98, 3.89, 3.81, 3.74,
     3.68, 3.61, 3.58, 3.54, 3.51, 3.49, 3.48, 3.46, 3.46, 3.45] + [3.45] * 10,
    [5.28, 5.19, 5.09, 5.00, 4.91, 4.81, 4.72, 4.62, 4.53, 4.43, 4.34, 4.25, 4.16, 4.07, 3.98, 3.89, 3.82, 3.74, 3.67, 3.62,
     3.56, 3.51, 3.48, 3.46, 3.43, 3.42, 3.42, 3.41, 3.41, 3.40] + [3.40] * 10,
    [5.03, 4.94, 4.85, 4.76, 4.67, 4.58, 4.49, 4.40, 4.32, 4.23, 4.14, 4.06, 3.97, 3.89, 3.81, 3.73, 3.67, 3.60, 3.54, 3.50,
     3.47, 3.43, 3.41, 3.40, 3.38, 3.38, 3.37, 3.37, 3.37, 3.36] + [3.36] * 10,
    [4.81, 4.73, 4.64, 4.56, 4.47, 4.39, 4.30, 4.22, 4.14, 4.06, 3.98, 3.89, 3.81, 3.74, 3.68, 3.61, 3.56, 3.51, 3.46, 3.43,
     3.41, 3.38, 3.37, 3.36, 3.35, 3.35, 3.34, 3.34, 3.34, 3.33] + [3.33] * 10,
    [4.73, 4.64, 4.56, 4.47, 4.38, 4.29, 4.20, 4.12, 4.03, 3.95, 3.87, 3.80, 3.72, 3.65, 3.59, 3.52, 3.48, 3.44, 3.40, 3.38,
     3.36, 3.34, 3.33, 3.33, 3.32, 3.32, 3.31] + [3.31] * 13,
    [4.47, 4.39, 4.30, 4.22, 4.14, 4.05, 3.97, 3.89, 3.82, 3.74, 3.67, 3.61, 3.54, 3.49, 3.45, 3.40, 3.38, 3.35, 3.33, 3.32,
     3.31, 3.30, 3.30, 3.29] + [3.29] * 16,
    [3.97, 3.89, 3.80, 3.72, 3.65, 3.58, 3.51, 3.46, 3.42, 3.37, 3.35, 3.32, 3.30, 3.29, 3.29, 3.28, 3.28, 3.27] + [3.27] * 22,
]

# ---------------- PEDOT:PSS/Pt : phase ----------------
ppt_phase = [
    [-88] * 18 + [-87, -86, -86, -85, -83, -82, -80, -78, -75, -73, -69, -65, -61, -56, -50, -45, -40, -34, -29, -25,
                  -21, -17],
    [-88] * 16 + [-87, -87, -86, -85, -84, -83, -81, -80, -78, -75, -72, -69, -64, -60, -55, -50, -44, -39, -34, -29,
                  -24, -21, -17, -14],
    [-88] * 14 + [-87, -87, -86, -86, -85, -84, -82, -81, -79, -76, -74, -70, -67, -63, -58, -53, -48, -43, -37, -32,
                  -28, -23, -19, -16, -14, -11],
    [-88] * 13 + [-87, -87, -86, -85, -85, -84, -82, -81, -79, -76, -73, -70, -66, -61, -57, -52, -46, -41, -36, -31,
                  -26, -22, -19, -15, -13, -11, -8.5],
    [-88] * 11 + [-87, -87, -86, -86, -85, -84, -83, -82, -80, -78, -76, -72, -69, -65, -60, -55, -50, -45, -39, -34,
                  -30, -25, -21, -18, -15, -12, -10, -9, -7],
    [-88] * 11 + [-87, -87, -86, -85, -84, -83, -81, -80, -77, -75, -72, -68, -64, -60, -55, -49, -44, -39, -33, -28,
                  -24, -21, -17, -14, -12, -9, -8, -6, -5],
    [-88] * 10 + [-87, -87, -86, -85, -84, -83, -81, -79, -77, -74, -70, -67, -62, -58, -53, -48, -42, -37, -32, -28,
                  -23, -20, -16, -13, -11, -9, -7, -6, -5, -4],
    [-88] * 9 + [-87, -86, -86, -85, -84, -82, -81, -78, -76, -73, -69, -66, -62, -57, -51, -46, -41, -35, -30, -26,
                 -22, -18, -15, -13, -10, -9, -7, -6, -5, -4, -3],
    [-88] * 7 + [-87, -87, -86, -85, -84, -83, -81, -80, -78, -75, -72, -69, -64, -60, -55, -49, -44, -38, -33, -29,
                 -24, -21, -17, -14, -12, -10, -8, -7, -5, -4, -3.5, -3, -2.4],
    [-88] * 6 + [-87, -86, -86, -85, -84, -82, -81, -78, -76, -73, -69, -66, -62, -57, -51, -46, -41, -35, -30, -26,
                 -22, -18, -15, -13, -10, -9, -7, -6, -5, -4, -3, -2.7, -2.3, -2],
    [-88] * 4 + [-87, -87, -86, -85, -84, -83, -81, -80, -78, -75, -72, -69, -65, -60, -56, -51, -45, -40, -35, -30,
                 -25, -21, -18, -14, -12, -10, -8, -7, -6, -4.5, -3.8, -3.2, -2.5, -2.1, -1.8, -1.4],
    [-88, -88, -87, -87, -86, -86, -85, -84, -82, -81, -79, -77, -75, -71, -68, -64, -59, -54, -49, -44,
     -38, -33, -29, -24, -20, -17, -14, -11, -9, -8, -6, -5, -4.3, -3.5, -3, -2.5, -2, -1.7, -1.3, -1],
    [-88, -88, -87, -87, -86, -85, -84, -82, -81, -79, -76, -74, -71, -67, -62, -58, -53, -47, -42, -37,
     -32, -27, -23, -20, -16, -14, -11, -9, -8, -6, -5, -4.3, -3.7, -3, -2.5, -2, -1.5, -1.3, -1.1, -0.9],
    [-88, -87, -87, -86, -85, -83, -82, -80, -78, -76, -73, -69, -66, -61, -57, -52, -46, -41, -35, -30,
     -26, -21, -18, -15, -12, -10, -9, -7, -6, -5, -4, -3.3, -2.7, -2, -1.7, -1.5, -1.2, -1, -0.9, -0.7],
    [-86, -85, -84, -83, -81, -80, -78, -75, -72, -69, -65, -60, -56, -51, -45, -40, -35, -30, -25, -21,
     -18, -14, -12, -10, -8, -7, -5.7, -4.5, -3.8, -3.2, -2.5, -2.1, -1.8, -1.4, -1.2, -1, -0.8, -0.7, -0.5, -0.4],
    [-78, -76, -72.5, -69, -65, -60, -55, -49, -42, -36, -30, -25, -20, -17, -13, -10.5, -9, -7.5, -6, -5,
     -4.3, -3.5, -3, -2.6, -2, -1.7, -1.5, -1.2, -1, -0.9, -0.7, -0.6, -0.5, -0.4, -0.35, -0.3, -0.2, -0.2, -0.1, -0.1],
]

# colour ramps: pale -> saturated -> black
ramps = {
    'gray': ['#dadada', '#b4b4b4', '#8a8a8a', '#5e5e5e', '#333333', '#111111'],
    'red': ['#f2c6ca', '#e58a92', '#c8323e', '#92202a', '#3c1618', '#141010'],
    'blue': ['#d4d4f2', '#a0a0dc', '#3434a8', '#1e1e66', '#16163a', '#101018'],
    'green': ['#d8f4d8', '#94e494', '#3cc83c', '#22802a', '#173a1a', '#101610'],
}


def series_colors(name):
    cmap = LinearSegmentedColormap.from_list(name, ramps[name])
    return [cmap(i / (len(diameters) - 1)) for i in range(len(diameters))]


def style(ax):
    ax.set_xscale('log')
    ax.set_xlim(1, 1e4)
    ax.set_xticks([1, 10, 100, 1000, 10000])
    ax.set_xticklabels([r'$10^{%d}$' % i for i in range(5)])
    ax.xaxis.set_minor_locator(LogLocator(base=10, subs=np.arange(2, 10)))
    ax.xaxis.set_minor_formatter(NullFormatter())
    ax.tick_params(which='both', direction='in', top=False, right=False,
                   labelsize=11.5, width=1.2)
    ax.tick_params(which='major', length=5)
    ax.tick_params(which='minor', length=2.5)
    for s in ax.spines.values():
        s.set_linewidth(1.6)
    ax.set_xlabel('f (Hz)', fontsize=14, labelpad=15)


def draw_mag(ax, logz, cname, title):
    cols = series_colors(cname)
    for d, row, c in zip(diameters, logz, cols):
        ax.scatter(freq, 10 ** np.array(row), s=9, color=c, linewidths=0, zorder=3)
    style(ax)
    ax.set_yscale('log')
    ax.set_ylim(2.2e2, 1.2e9)
    ax.set_yticks([10 ** i for i in range(3, 10)])
    ax.set_yticklabels([r'$10^{%d}$' % i for i in range(3, 10)])
    ax.yaxis.set_minor_locator(LogLocator(base=10, subs=np.arange(2, 10)))
    ax.yaxis.set_minor_formatter(NullFormatter())
    ax.set_ylabel('Impedance Magnitude (\u03a9)', fontsize=14, labelpad=4)
    ax.text(0.895, 0.84, title, transform=ax.transAxes, ha='right', va='center',
            fontsize=19, fontweight='bold', family=['Lato', 'DejaVu Sans'])


def draw_phase(ax, phase, cname):
    cols = series_colors(cname)
    for d, row, c in zip(diameters, phase, cols):
        ax.scatter(freq, row, s=9, color=c, linewidths=0, zorder=3, label='D=%d' % d)
    style(ax)
    ax.set_ylim(-95, 5)
    ax.set_yticks(range(0, -100, -10))
    ax.yaxis.set_minor_locator(MultipleLocator(5))
    ax.set_ylabel('Impedance Phase (deg)', fontsize=14, labelpad=4)
    ax.legend(loc='upper left', bbox_to_anchor=(1.02, 1.0), frameon=False,
              prop={'family': 'Liberation Sans', 'weight': 'bold', 'size': 9.5},
              handlelength=0.8, handletextpad=0.6, labelspacing=0.28,
              borderaxespad=0.2, scatterpoints=1)


fig = plt.figure(figsize=(8.67, 13.52), dpi=100)

rows = [0.7766, 0.5325, 0.2914, 0.0488]
h = 0.1905
panels = [
    (au_logz, au_phase, 'gray', 'Au', 'a)', 'b)'),
    (pau_logz, pau_phase, 'red', 'PEDOT:PSS/Au', 'c)', 'd)'),
    (pt_logz, pt_phase, 'blue', 'Pt', 'e)', 'f)'),
    (ppt_logz, ppt_phase, 'green', 'PEDOT:PSS/Pt', 'g)', 'h)'),
]
for bottom, (mz, ph, cname, title, la, lb) in zip(rows, panels):
    axl = fig.add_axes([0.0923, bottom, 0.3656, h])
    axr = fig.add_axes([0.5386, bottom, 0.3645, h])
    draw_mag(axl, mz, cname, title)
    draw_phase(axr, ph, cname)
    ytxt = bottom + h + 0.018
    fig.text(0.018, ytxt, la, fontsize=15, fontweight='bold',
             family=['Lato', 'DejaVu Sans'], va='center')
    fig.text(0.492, ytxt, lb, fontsize=15, fontweight='bold',
             family=['Lato', 'DejaVu Sans'], va='center')

fig.savefig('out.png', dpi=100)
